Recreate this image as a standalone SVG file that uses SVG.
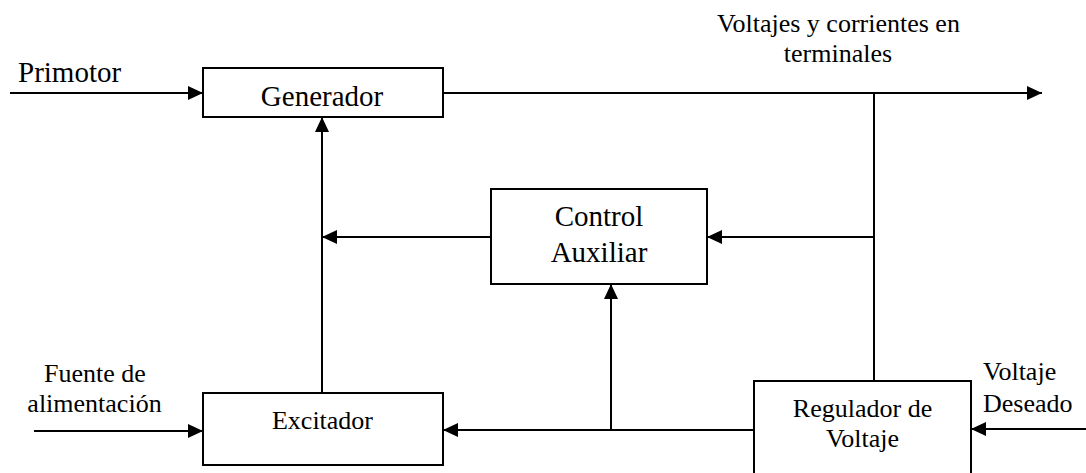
<svg xmlns="http://www.w3.org/2000/svg" width="1086" height="473" viewBox="0 0 1086 473">
<style>
.box{fill:#fff;stroke:#000;stroke-width:2}
.ln{fill:none;stroke:#000;stroke-width:2}
.t{font-family:"Liberation Serif","Times New Roman",serif;font-size:26px;fill:#000}
.tb{font-family:"Liberation Serif","Times New Roman",serif;font-size:29px;fill:#000}
.m{text-anchor:middle}
</style>
<defs>
<marker id="ah" markerUnits="userSpaceOnUse" markerWidth="16" markerHeight="14" refX="15" refY="7" orient="auto">
<path d="M0,0 L15,7 L0,14 Z" fill="#000"/>
</marker>
</defs>
<g id="connectors">
<line class="ln" x1="10" y1="93" x2="203" y2="93" marker-end="url(#ah)"/>
<line class="ln" x1="443" y1="93" x2="1042" y2="93" marker-end="url(#ah)"/>
<line class="ln" x1="874" y1="93" x2="874" y2="381"/>
<line class="ln" x1="874" y1="237" x2="707" y2="237" marker-end="url(#ah)"/>
<line class="ln" x1="491" y1="237" x2="322" y2="237" marker-end="url(#ah)"/>
<line class="ln" x1="322" y1="393" x2="322" y2="117" marker-end="url(#ah)"/>
<line class="ln" x1="754" y1="430" x2="443" y2="430" marker-end="url(#ah)"/>
<line class="ln" x1="611" y1="430" x2="611" y2="284" marker-end="url(#ah)"/>
<line class="ln" x1="34" y1="431" x2="203" y2="431" marker-end="url(#ah)"/>
<line class="ln" x1="1086" y1="429" x2="971" y2="429" marker-end="url(#ah)"/>
</g>
<g id="generador">
<rect class="box" x="203" y="68" width="240" height="49"/>
<text class="tb m" x="322" y="106">Generador</text>
</g>
<g id="control">
<rect class="box" x="491" y="189" width="216" height="95"/>
<text class="tb m" x="599" y="226">Control</text>
<text class="tb m" x="599" y="262">Auxiliar</text>
</g>
<g id="excitador">
<rect class="box" x="203" y="393" width="240" height="72"/>
<text class="t m" x="322.5" y="429">Excitador</text>
</g>
<g id="regulador">
<rect class="box" x="754" y="381" width="217" height="110"/>
<text class="t m" x="862.5" y="417">Regulador de</text>
<text class="t m" x="862.5" y="447">Voltaje</text>
</g>
<g id="labels">
<text class="tb" x="18" y="82">Primotor</text>
<text class="t m" x="838.5" y="32">Voltajes y corrientes en</text>
<text class="t m" x="838" y="62">terminales</text>
<text class="t m" x="95" y="382">Fuente de</text>
<text class="t m" x="94.5" y="412">alimentación</text>
<text class="t" x="983" y="380">Voltaje</text>
<text class="t" x="983" y="412">Deseado</text>
</g>
</svg>
